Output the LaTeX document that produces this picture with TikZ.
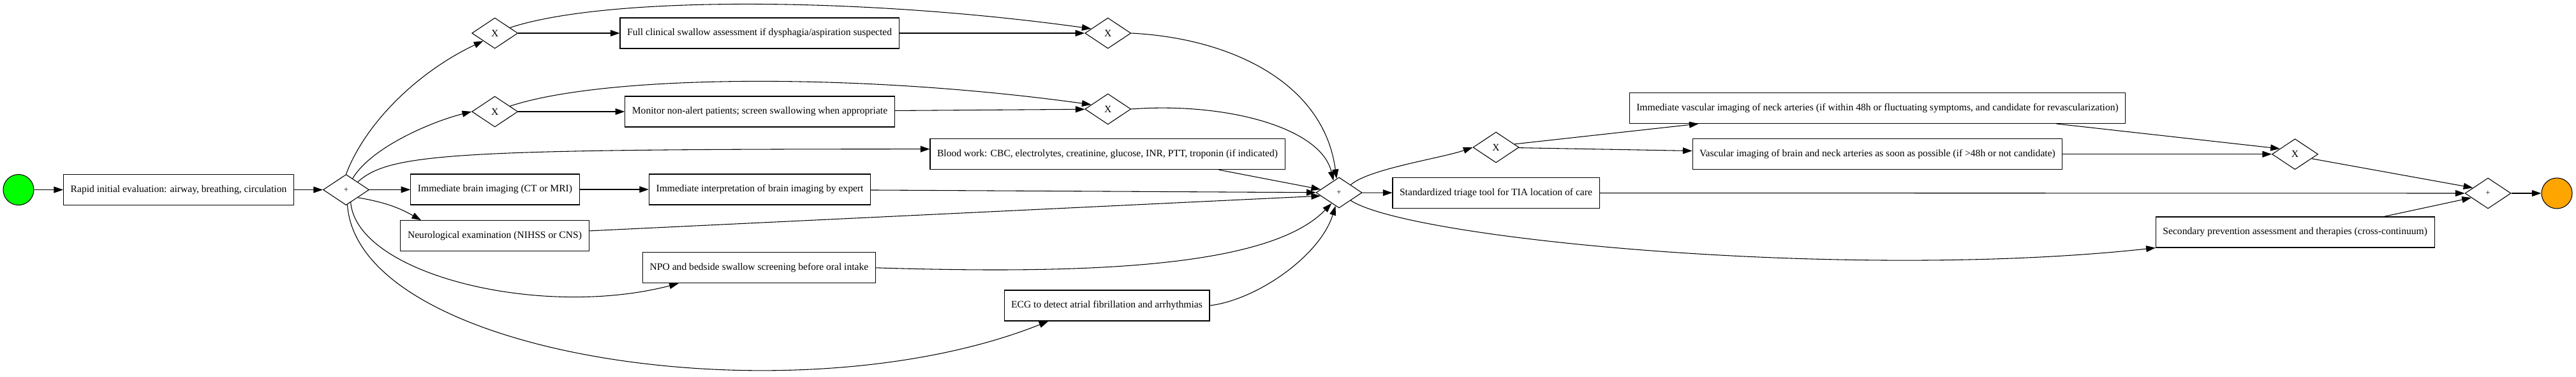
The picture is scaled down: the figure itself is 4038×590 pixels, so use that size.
\documentclass[tikz,border=0pt]{standalone}
\usepackage{fontspec}
\setmainfont{Liberation Serif}
\usetikzlibrary{shapes.geometric,arrows.meta}
\definecolor{startgreen}{RGB}{0,255,0}
\definecolor{endorange}{RGB}{255,165,0}

\begin{document}
\begin{tikzpicture}[->,>={Triangle[length=11pt,width=7.5pt]},line width=0.8pt,x=0.75pt,y=-0.75pt]
\tikzstyle{task}=[rectangle,draw,minimum height=36pt,inner xsep=8.3pt,font=\fontsize{11.7pt}{14pt}\selectfont]
\tikzstyle{gateway}=[diamond,draw,minimum width=54pt,minimum height=36pt,inner sep=0pt,font=\fontsize{11.7pt}{14pt}\selectfont]
\tikzstyle{and gateway}=[gateway,font=\fontsize{9.5pt}{11pt}\selectfont]
\tikzstyle{event}=[circle,draw,minimum size=36pt,inner sep=0pt]

\useasboundingbox (0,0) rectangle (4038,590);

% Draw the start and end events
\node[event,fill=startgreen] (start) at (29,297.5) {};
\node[event,fill=endorange] (finish) at (4008,303) {};

% Draw the gateways
\node[and gateway] (and-split) at (542.5,297.5) {+};
\node[and gateway] (and-join) at (2099,302) {+};
\node[and gateway] (and-end) at (3900,303) {+};
\node[gateway] (xor-swallow) at (775.7,52) {X};
\node[gateway] (xor-monitor) at (775.7,175) {X};
\node[gateway] (xor-swallow-join) at (1736.7,52) {X};
\node[gateway] (xor-monitor-join) at (1736.7,171) {X};
\node[gateway] (xor-vasc) at (2345,231) {X};
\node[gateway] (xor-vasc-join) at (3597.5,241.7) {X};

% Draw the tasks
\node[task] (eval) at (280,297.5) {Rapid initial evaluation: airway, breathing, circulation};
\node[task] (swallow) at (1190.6,52) {Full clinical swallow assessment if dysphagia/aspiration suspected};
\node[task] (monitor) at (1191,175) {Monitor non-alert patients; screen swallowing when appropriate};
\node[task] (blood) at (1736,241.7) {Blood work: CBC, electrolytes, creatinine, glucose, INR, PTT, troponin (if indicated)};
\node[task] (imaging) at (776,297) {Immediate brain imaging (CT or MRI)};
\node[task] (interpret) at (1191,297) {Immediate interpretation of brain imaging by expert};
\node[task] (neuro) at (775.5,369.7) {Neurological examination (NIHSS or CNS)};
\node[task] (npo) at (1190,419.8) {NPO and bedside swallow screening before oral intake};
\node[task] (ecg) at (1735,479) {ECG to detect atrial fibrillation and arrhythmias};
\node[task] (triage) at (2345,302.5) {Standardized triage tool for TIA location of care};
\node[task] (vasc-now) at (2943,169.5) {Immediate vascular imaging of neck arteries (if within 48h or fluctuating symptoms, and candidate for revascularization)};
\node[task] (vasc-soon) at (2943,241.7) {Vascular imaging of brain and neck arteries as soon as possible (if >48h or not candidate)};
\node[task] (prevention) at (3597.7,364) {Secondary prevention assessment and therapies (cross-continuum)};

% Straight flows
\foreach \source / \dest in {start/eval, eval/and-split, and-split/imaging, imaging/interpret,
    interpret/and-join, xor-swallow/swallow, swallow/xor-swallow-join, xor-monitor/monitor,
    monitor/xor-monitor-join, and-join/triage, xor-vasc/vasc-soon, vasc-soon/xor-vasc-join,
    triage/and-end, and-end/finish, blood.-8/and-join.170, neuro.3/and-join.190,
    xor-vasc.10/vasc-now.185, vasc-now.-5/xor-vasc-join.160, xor-vasc-join.-15/and-end.160,
    prevention.10/and-end.195}
\path (\source) edge (\dest);

% Split into the parallel branches
\draw (and-split.north) .. controls +(32,-84) and +(-98,46) .. (xor-swallow.south west);
\draw (and-split.60) .. controls +(30,-50) and +(-60,15) .. (xor-monitor.west);
\draw (and-split.north east) .. controls +(50,-45) and +(-750,0) .. ([yshift=6pt]blood.west);
\draw (and-split.south east) to[bend left=10] (neuro.168);
\draw (and-split.-70) .. controls +(10,113) and +(-216,56) .. (npo.191);
\draw (and-split.-85) .. controls +(16,240) and +(-395,157) .. (ecg.195);

% Skip the optional tasks
\foreach \source / \dest in {xor-swallow/xor-swallow-join, xor-monitor/xor-monitor-join}
\draw (\source.20) .. controls +(151,-50) and +(-361,-50) .. (\dest.165);

% Join the parallel branches
\draw (xor-swallow-join.east) .. controls +(157,8) and +(-20,-150) .. (and-join.100);
\draw (xor-monitor-join.east) .. controls +(147,-11) and +(-20,-84) .. (and-join.115);
\draw (npo.east) .. controls +(326,10) and +(-98,102) .. (and-join.235);
\draw (ecg.east) .. controls +(74,-9) and +(-24,78) .. (and-join.255);

% After the join
\draw (and-join.north east) .. controls +(28,-25) and +(-49,17) .. (xor-vasc.west);
\draw (and-join.south east) .. controls +(93,61) and +(-479,52) .. (prevention.south west);

\end{tikzpicture}
\end{document}
